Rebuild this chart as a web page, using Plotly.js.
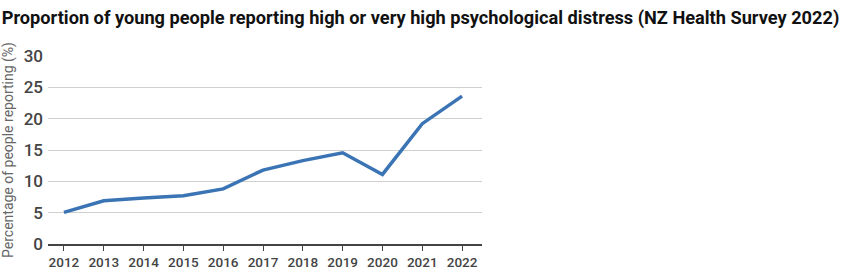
<!DOCTYPE html>
<html>
<head>
<meta charset="utf-8">
<script src="https://cdn.plot.ly/plotly-3.0.1.min.js"></script>
<style>html,body{margin:0;padding:0;background:#fff;}#chart{width:850px;height:278px;}</style>
</head>
<body>
<div id="chart"></div>
<script>
const years = [2012, 2013, 2014, 2015, 2016, 2017, 2018, 2019, 2020, 2021, 2022];
const distress = [5.05, 6.9, 7.35, 7.7, 8.8, 11.8, 13.3, 14.55, 11.1, 19.2, 23.6];
const yTicks = [0, 5, 10, 15, 20, 25, 30];
const chartTitle = "Proportion of young people reporting high or very high psychological distress (NZ Health Survey 2022)";
const yTitle = "Percentage of people reporting (%)";

Plotly.newPlot('chart', [{
  x: years, y: distress, type: 'scatter', mode: 'lines',
  line: {color: '#3b74b4', width: 3.5},
  hoverinfo: 'skip'
}], {
  width: 850, height: 278,
  margin: {l: 48, r: 368, t: 56, b: 34},
  paper_bgcolor: '#fff', plot_bgcolor: '#fff',
  font: {family: 'Roboto, "Noto Sans", sans-serif', color: '#444'},
  title: {text: '<b>' + chartTitle + '</b>', x: 0.002, xanchor: 'left', xref: 'container', y: 0.935, yanchor: 'middle', yref: 'container',
    font: {family: 'Roboto, sans-serif', size: 18.2, color: '#111'}},
  xaxis: {
    range: [2011.6, 2022.5], tickvals: years, ticktext: years.map(String),
    showgrid: false, zeroline: false, showline: true, linecolor: '#444', linewidth: 2,
    ticks: 'outside', ticklen: 5, tickcolor: '#444', tickwidth: 1,
    tickfont: {size: 13.5, color: '#444', weight: 500}, fixedrange: true
  },
  yaxis: {
    range: [0, 30], tickvals: yTicks, showgrid: true, gridcolor: '#d0d0d0', gridwidth: 1,
    zeroline: false, showline: false, ticks: '',
    tickfont: {size: 17, color: '#444', weight: 500}, ticklabelstandoff: 4,
    title: {text: yTitle, font: {family: 'Roboto, sans-serif', size: 14, color: '#666'}, standoff: 6}, fixedrange: true
  },
  showlegend: false
}, {displayModeBar: false, staticPlot: true});
</script>
</body>
</html>
